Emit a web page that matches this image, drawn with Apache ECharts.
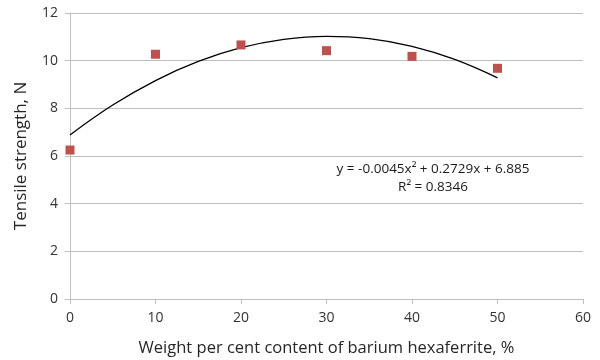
<!DOCTYPE html>
<html><head><meta charset="utf-8">
<script src="https://cdn.jsdelivr.net/npm/echarts@6/dist/echarts.min.js"></script>
<style>html,body{margin:0;padding:0;background:#fff}#c{width:600px;height:360px}</style>
</head><body><div id="c"></div>
<script>
const weightPct = [0, 10, 20, 30, 40, 50];
const strength = [6.25, 10.27, 10.66, 10.42, 10.18, 9.68];
const trendX = [0, 5, 10, 15, 20, 25, 30, 35, 40, 45, 50];
const trendY = [6.885, 8.137, 9.164, 9.966, 10.543, 10.895, 11.022, 10.924, 10.601, 10.053, 9.280];
const eqLine1 = 'y = -0.0045x² + 0.2729x + 6.885';
const eqLine2 = 'R² = 0.8346';
const font = 'Open Sans';
const chart = echarts.init(document.getElementById('c'));
chart.setOption({
  animation: false,
  grid: {left: 70, right: 17, top: 13, bottom: 61, containLabel: false, outerBoundsMode: 'none'},
  xAxis: {
    type: 'value', min: 0, max: 60, interval: 10,
    name: 'Weight per cent content of barium hexaferrite, %',
    nameLocation: 'middle', nameGap: 41,
    nameTextStyle: {color: '#262626', fontSize: 16.5, fontFamily: font},
    axisLine: {show: true, lineStyle: {color: '#bfbfbf', width: 1}},
    axisTick: {show: true, length: 5, lineStyle: {color: '#bfbfbf'}},
    axisLabel: {color: '#333', fontSize: 14, fontFamily: font, margin: 12},
    splitLine: {show: false}
  },
  yAxis: {
    type: 'value', min: 0, max: 12, interval: 2,
    name: 'Tensile strength, N',
    nameLocation: 'middle', nameGap: 40,
    nameTextStyle: {color: '#262626', fontSize: 17, fontFamily: font},
    axisLine: {show: true, lineStyle: {color: '#bfbfbf', width: 1}},
    axisTick: {show: true, length: 5, lineStyle: {color: '#bfbfbf'}},
    axisLabel: {color: '#333', fontSize: 14, fontFamily: font, margin: 12},
    splitLine: {show: true, lineStyle: {color: '#bfbfbf', width: 1}}
  },
  series: [
    {
      type: 'line', data: trendX.map((x, i) => [x, trendY[i]]),
      smooth: 0.4, showSymbol: false, symbol: 'none',
      lineStyle: {color: '#000', width: 1.3}, z: 2
    },
    {
      type: 'scatter', data: weightPct.map((x, i) => [x, strength[i]]),
      symbol: 'rect', symbolSize: 9,
      itemStyle: {color: '#c0504d', opacity: 1}, z: 3
    }
  ],
  graphic: [
    {type: 'text', style: {text: eqLine1, x: 433, y: 169, align: 'center', verticalAlign: 'middle', fill: '#1a1a1a', font: '13.5px "Open Sans"'}},
    {type: 'text', style: {text: eqLine2, x: 433, y: 187, align: 'center', verticalAlign: 'middle', fill: '#1a1a1a', font: '13.5px "Open Sans"'}}
  ]
});
</script></body></html>
